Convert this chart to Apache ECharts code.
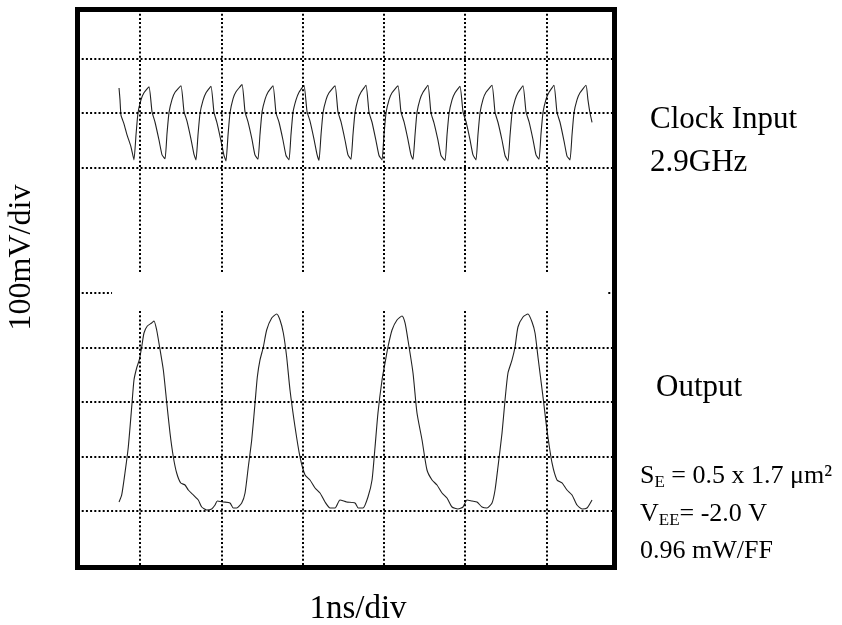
<!DOCTYPE html>
<html>
<head>
<meta charset="utf-8">
<script src="https://cdn.jsdelivr.net/npm/echarts@6/dist/echarts.min.js"></script>
<style>
html, body { margin: 0; padding: 0; background: #fff; }
#container { width: 842px; height: 625px; }
</style>
</head>
<body>
<div id="container"></div>
<script>
var dom = document.getElementById("container");
var myChart = echarts.init(dom);

// time in ns, 1 ns per division
var divTimes = [0, 1, 2, 3, 4, 5];
// horizontal divisions, mV (100 mV/div)
var clockLevels = [100, 0, -100];
var outLevels = [0, 100, 200, 300];

// clock input trace (upper)
var clockTime = [
    -0.258, -0.246, -0.234, -0.197, -0.160, -0.111,
    -0.074, -0.049, -0.025, 0.012, 0.049, 0.111, 0.148, 0.185, 0.234, 0.271,
    0.308, 0.332, 0.357, 0.394, 0.431, 0.504, 0.541, 0.578, 0.627, 0.664,
    0.689, 0.713, 0.738, 0.775, 0.812, 0.873, 0.910, 0.947, 0.996, 1.033,
    1.058, 1.082, 1.107, 1.144, 1.181, 1.255, 1.292, 1.328, 1.378, 1.414,
    1.451, 1.476, 1.501, 1.538, 1.574, 1.636, 1.673, 1.710, 1.759, 1.796,
    1.833, 1.857, 1.882, 1.919, 1.956, 2.017, 2.054, 2.091, 2.140, 2.177,
    2.202, 2.226, 2.251, 2.288, 2.325, 2.399, 2.435, 2.472, 2.522, 2.558,
    2.595, 2.620, 2.645, 2.681, 2.718, 2.780, 2.817, 2.854, 2.903, 2.940,
    2.977, 3.001, 3.026, 3.063, 3.100, 3.173, 3.210, 3.247, 3.296, 3.333,
    3.358, 3.383, 3.407, 3.444, 3.481, 3.542, 3.579, 3.616, 3.665, 3.702,
    3.752, 3.776, 3.801, 3.838, 3.875, 3.936, 3.973, 4.010, 4.059, 4.096,
    4.133, 4.157, 4.182, 4.219, 4.256, 4.330, 4.367, 4.403, 4.453, 4.490,
    4.526, 4.551, 4.576, 4.613, 4.649, 4.711, 4.748, 4.785, 4.834, 4.871,
    4.908, 4.932, 4.957, 4.994, 5.031, 5.092, 5.129, 5.166, 5.215, 5.252,
    5.289, 5.314, 5.338, 5.375, 5.412, 5.486, 5.510, 5.535, 5.560
];
var clockMv = [
    46, 24, -4, -20, -40, -62,
    -86, -40, 0, 24, 37, 48, 2, -17, -50, -77,
    -84, -38, 1, 25, 38, 50, 3, -15, -48, -76,
    -86, -41, -1, 23, 37, 49, 1, -18, -51, -78,
    -88, -42, 0, 26, 39, 52, 2, -16, -49, -77,
    -85, -39, 2, 25, 38, 50, 0, -17, -50, -78,
    -86, -40, 1, 24, 38, 51, 3, -15, -48, -76,
    -87, -41, 0, 24, 37, 50, 2, -16, -50, -77,
    -85, -39, 1, 25, 38, 51, 1, -17, -51, -78,
    -86, -40, 0, 24, 37, 50, 2, -16, -49, -77,
    -85, -40, 1, 25, 38, 51, 0, -18, -50, -78,
    -87, -41, -1, 24, 37, 49, 2, -16, -49, -77,
    -86, -40, 0, 25, 38, 51, 1, -17, -50, -78,
    -88, -42, 0, 24, 37, 50, 2, -16, -49, -77,
    -85, -39, 1, 25, 38, 51, 1, -17, -51, -79,
    -86, -40, 0, 24, 37, 51, 24, 0, -17
];

// output trace (lower)
var outTime = [
    -0.258, -0.225, -0.185, -0.144, -0.102, -0.074, -0.041, -0.009, 0.021, 0.049,
    0.090, 0.144, 0.172, 0.205, 0.237, 0.287, 0.328, 0.369, 0.410, 0.451,
    0.501, 0.554, 0.594, 0.656, 0.717, 0.759, 0.820, 0.882, 0.923, 0.951,
    1.025, 1.107, 1.148, 1.189, 1.251, 1.292, 1.332, 1.374, 1.415, 1.443,
    1.476, 1.517, 1.558, 1.620, 1.681, 1.722, 1.763, 1.804, 1.845, 1.907,
    1.968, 2.030, 2.091, 2.153, 2.214, 2.276, 2.337, 2.399, 2.460, 2.542,
    2.645, 2.685, 2.743, 2.804, 2.854, 2.891, 2.927, 2.977, 3.014, 3.050,
    3.100, 3.161, 3.223, 3.260, 3.296, 3.358, 3.407, 3.469, 3.530, 3.592,
    3.653, 3.715, 3.776, 3.838, 3.911, 3.973, 4.022, 4.084, 4.145, 4.207,
    4.268, 4.330, 4.367, 4.403, 4.453, 4.490, 4.526, 4.576, 4.613, 4.649,
    4.711, 4.772, 4.822, 4.859, 4.895, 4.957, 5.006, 5.068, 5.129, 5.191,
    5.252, 5.314, 5.375, 5.437, 5.498, 5.560
];
var outMv = [
    16.5, 29.4, 69.7, 117.4, 190.8, 240.4, 262.4, 277.1, 300.9, 326.6,
    339.4, 345.0, 348.6, 332.1, 304.6, 258.7, 200.0, 143.1, 99.1, 69.7,
    51.4, 47.7, 38.5, 29.4, 20.2, 7.3, 1.8, 3.7, 11.0, 18.3,
    16.5, 14.7, 5.5, 5.5, 14.7, 33.0, 80.7, 130.3, 198.2, 245.9,
    277.1, 300.9, 332.1, 354.1, 361.5, 350.5, 326.6, 282.6, 222.0, 154.1,
    99.1, 66.1, 56.9, 42.2, 33.0, 16.5, 5.5, 5.5, 20.2, 16.5,
    14.7, 5.5, 5.5, 25.7, 56.9, 117.4, 179.8, 240.4, 271.6, 300.9,
    332.1, 350.5, 357.8, 345.0, 313.8, 253.2, 179.8, 130.3, 75.2, 56.9,
    47.7, 33.0, 23.9, 7.3, 3.7, 7.3, 20.2, 18.3, 16.5, 7.3,
    5.5, 14.7, 38.5, 80.7, 143.1, 203.7, 253.2, 277.1, 300.9, 337.6,
    356.0, 361.5, 346.8, 326.6, 282.6, 209.2, 148.6, 88.1, 56.9, 51.4,
    38.5, 29.4, 11.0, 3.7, 5.5, 20.2
];

var X_MIN = -0.7688, X_MAX = 5.8364;
var CLK_MIN = -834.0, CLK_MAX = 189.9;
var OUT_MIN = -103.7, OUT_MAX = 920.2;

var FONT = '"Liberation Serif", "Times New Roman", serif';
var dotted = { type: [2, 2.2], color: '#000', width: 2 };

function pairs(xs, ys) {
    var out = [];
    for (var i = 0; i < xs.length; i++) {
        out.push([xs[i], ys[i]]);
    }
    return out;
}

function gridMarks(levels, yFrom, yTo, extra) {
    var data = [];
    for (var i = 0; i < levels.length; i++) {
        data.push({ yAxis: levels[i] });
    }
    for (var j = 0; j < divTimes.length; j++) {
        data.push([{ coord: [divTimes[j], yFrom] }, { coord: [divTimes[j], yTo] }]);
    }
    return data.concat(extra || []);
}

var option = {
    animation: false,
    grid: {
        left: 77.5,
        top: 9.5,
        width: 537,
        height: 558,
        outerBoundsMode: 'none',
        show: true,
        borderColor: '#000',
        borderWidth: 5,
        backgroundColor: 'transparent'
    },
    xAxis: {
        type: 'value',
        min: X_MIN,
        max: X_MAX,
        name: '1ns/div',
        nameLocation: 'middle',
        nameGap: 25,
        nameTextStyle: { fontFamily: FONT, fontSize: 33, color: '#000', padding: [0, 0, 0, 24] },
        axisLine: { show: false },
        axisTick: { show: false },
        axisLabel: { show: false },
        splitLine: { show: false }
    },
    yAxis: [
        {
            type: 'value',
            min: CLK_MIN,
            max: CLK_MAX,
            name: '100mV/div',
            nameLocation: 'middle',
            nameGap: 40,
            nameTextStyle: { fontFamily: FONT, fontSize: 32, color: '#000', padding: [0, 0, 0, 62] },
            axisLine: { show: false },
            axisTick: { show: false },
            axisLabel: { show: false },
            splitLine: { show: false }
        },
        {
            type: 'value',
            min: OUT_MIN,
            max: OUT_MAX,
            position: 'left',
            axisLine: { show: false },
            axisTick: { show: false },
            axisLabel: { show: false },
            splitLine: { show: false }
        }
    ],
    series: [
        {
            name: 'Clock Input',
            type: 'line',
            yAxisIndex: 0,
            data: pairs(clockTime, clockMv),
            showSymbol: false,
            smooth: 0.15,
            lineStyle: { color: '#222', width: 1.1 },
            markLine: {
                silent: true,
                symbol: 'none',
                label: { show: false },
                lineStyle: dotted,
                data: gridMarks(clockLevels, CLK_MAX, -291.7)
            }
        },
        {
            name: 'Output',
            type: 'line',
            yAxisIndex: 1,
            data: pairs(outTime, outMv),
            showSymbol: false,
            smooth: 0.2,
            lineStyle: { color: '#222', width: 1.1 },
            markLine: {
                silent: true,
                symbol: 'none',
                label: { show: false },
                lineStyle: dotted,
                data: gridMarks(outLevels, 367, OUT_MIN, [
                    [{ coord: [X_MIN, 400] }, { coord: [-0.344, 400] }],
                    [{ coord: [5.76, 400] }, { coord: [5.79, 400] }]
                ])
            }
        }
    ],
    graphic: [
        {
            type: 'text', x: 650, y: 119.5,
            style: { text: 'Clock Input', font: '31px ' + FONT, fill: '#000', align: 'left', verticalAlign: 'middle' }
        },
        {
            type: 'text', x: 650, y: 163,
            style: { text: '2.9GHz', font: '31px ' + FONT, fill: '#000', align: 'left', verticalAlign: 'middle' }
        },
        {
            type: 'text', x: 656, y: 387.5,
            style: { text: 'Output', font: '31px ' + FONT, fill: '#000', align: 'left', verticalAlign: 'middle' }
        },
        {
            type: 'text', x: 640, y: 476,
            style: {
                text: 'S{s|E} = 0.5 x 1.7 μm²', font: '26px ' + FONT, fill: '#000', lineHeight: 30,
                align: 'left', verticalAlign: 'middle',
                rich: { s: { fontSize: 17, fontFamily: FONT, lineHeight: 8, verticalAlign: 'bottom' } }
            }
        },
        {
            type: 'text', x: 640, y: 514,
            style: {
                text: 'V{s|EE}= -2.0 V', font: '26px ' + FONT, fill: '#000', lineHeight: 30,
                align: 'left', verticalAlign: 'middle',
                rich: { s: { fontSize: 17, fontFamily: FONT, lineHeight: 8, verticalAlign: 'bottom' } }
            }
        },
        {
            type: 'text', x: 640, y: 551,
            style: { text: '0.96 mW/FF', font: '26px ' + FONT, fill: '#000', align: 'left', verticalAlign: 'middle' }
        }
    ]
};

myChart.setOption(option);
</script>
</body>
</html>
